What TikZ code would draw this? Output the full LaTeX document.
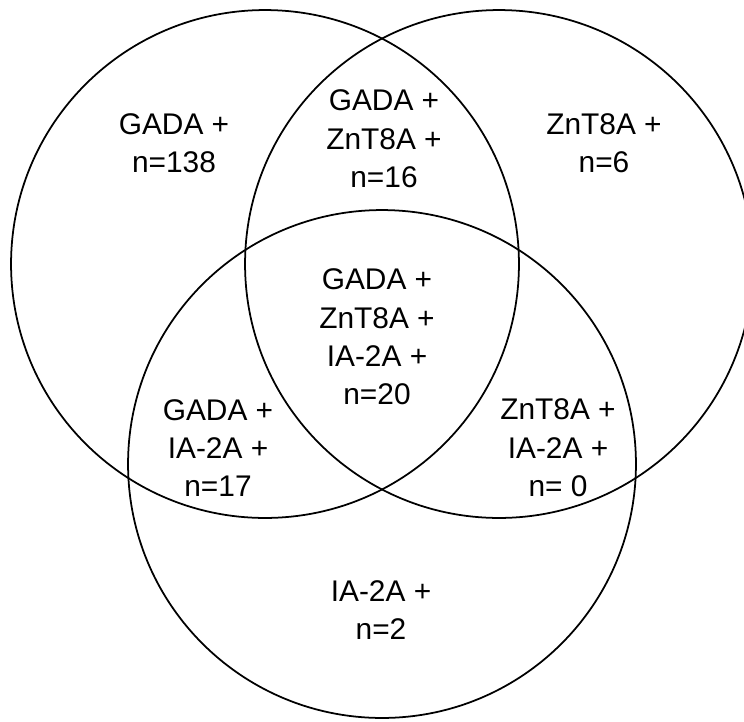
\documentclass[tikz,border=0pt]{standalone}
\usepackage{fontspec}
\setmainfont{Liberation Sans}
\begin{document}
\begin{tikzpicture}[x=0.02cm,y=-0.02cm,line width=1pt,
        regiontext/.style={align=center,inner sep=0pt,
                font=\fontsize{17}{21.8}\selectfont}]
        % fix the size of the picture
        \useasboundingbox (0,0) rectangle (744,721);
        \clip (0,0) rectangle (744,721);

        % draw the three circles
        \foreach \cx/\cy in {265/264, 499/264, 382/464}
                \draw (\cx,\cy) circle(5.08cm);

        % write the counts in each region
        \foreach \x/\y/\name/\txt in {
            % regions with only one antibody
            174/143/gada/{GADA +\\n=138},
            604/143/znta/{ZnT8A +\\n=6},
            381/610/iaa/{IA-2A +\\n=2},
            % regions with two antibodies
            384/139/gadaznta/{GADA +\\ZnT8A +\\n=16},
            218/448/gadaiaa/{GADA +\\IA-2A +\\n=17},
            558/448/zntaiaa/{ZnT8A +\\IA-2A +\\n= 0},
            % region with all three
            377/337/all/{GADA +\\ZnT8A +\\IA-2A +\\n=20}}
                \node[regiontext] (\name) at (\x,\y) {\txt};
\end{tikzpicture}
\end{document}
